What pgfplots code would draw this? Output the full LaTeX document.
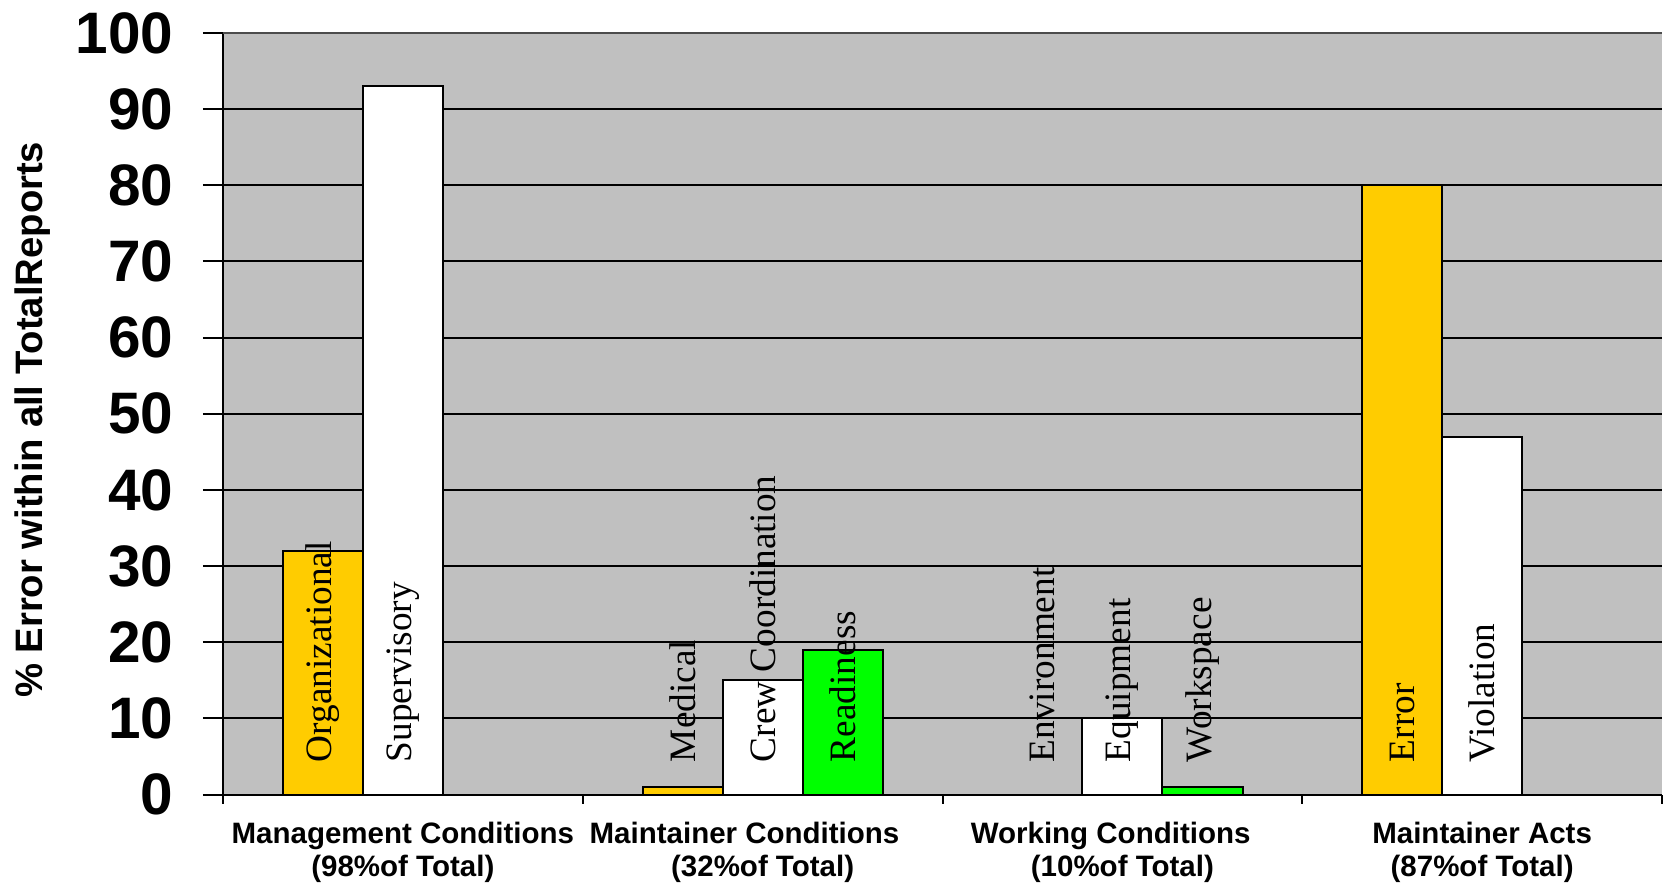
\documentclass[border=0pt]{standalone}
\usepackage{pgfplots}
\pgfplotsset{compat=1.18}
\usepackage{fontspec}
\setmainfont{Liberation Sans}
\newfontfamily\barserif{Liberation Serif}
\definecolor{gold}{HTML}{FFCC00}
\definecolor{bgray}{HTML}{C0C0C0}
\definecolor{lgreen}{HTML}{00FF00}
\tikzset{barlabel/.style={rotate=90, anchor=west, inner sep=0pt, font=\barserif\fontsize{14.9}{14.9}\selectfont}}
\begin{document}
\begin{tikzpicture}
\begin{axis}[
  at={(89.2pt,35.4pt)}, anchor=south west,
  scale only axis, width=575.6pt, height=304.6pt,
  xmin=-0.5, xmax=3.5, ymin=0, ymax=100,
  clip=false,
  axis background/.style={fill=bgray},
  axis x line*=bottom, axis y line*=left,
  axis line style={line width=0.8pt, -},
  ytick={0,10,...,90}, extra y ticks={100},
  extra y tick style={grid style={gray!60!black, line width=0.8pt}},
  ymajorgrids, grid style={black, line width=0.8pt},
  tick align=outside, major tick length=8pt,
  tick style={black, line width=0.8pt},
  xtick style={/pgfplots/major tick length=3.7pt},
  xtick={-0.5,0.5,1.5,2.5,3.5},
  x tick label as interval,
  xticklabels={{Management Conditions\\(98\%of Total)},{Maintainer Conditions\kern14.5pt\\(32\%of Total)},{Working Conditions\kern9.4pt\\(10\%of Total)},{Maintainer Acts\\(87\%of Total)}},
  xticklabel style={align=center, yshift=0.4pt, font=\bfseries\fontsize{11.8}{13.2}\selectfont},
  /pgf/number format/assume math mode=true,
  yticklabel style={xshift=-8.4pt, font=\bfseries\fontsize{23.4}{23.4}\selectfont},
  ylabel={\% Error within all TotalReports},
  every axis y label/.style={at={(axis description cs:-0.132,0.492)}, rotate=90, anchor=center, font=\bfseries\fontsize{15.3}{15.3}\selectfont},
]
\addplot[ybar, bar width=0.2226, bar shift=0pt, fill=gold, draw=black, line width=0.8pt]
  coordinates {(-0.2226,32) (0.7774,1) (2.7774,80)};
\addplot[ybar, bar width=0.2226, bar shift=0pt, fill=white, draw=black, line width=0.8pt]
  coordinates {(0,93) (1,15) (2,10) (3,47)};
\addplot[ybar, bar width=0.2226, bar shift=0pt, fill=lgreen, draw=black, line width=0.8pt]
  coordinates {(1.2226,19) (2.2226,1)};
\node[barlabel] at (axis cs:-0.2226,4.2) {Organizational};
\node[barlabel] at (axis cs:0,4.2) {Supervisory};
\node[barlabel] at (axis cs:0.7774,4.2) {Medical};
\node[barlabel] at (axis cs:1,4.2) {Crew Coordination};
\node[barlabel] at (axis cs:1.2226,4.2) {Readiness};
\node[barlabel] at (axis cs:1.7774,4.2) {Environment};
\node[barlabel] at (axis cs:2,4.2) {Equipment};
\node[barlabel] at (axis cs:2.2226,4.2) {Workspace};
\node[barlabel] at (axis cs:2.7774,4.2) {Error};
\node[barlabel] at (axis cs:3,4.2) {Violation};
\end{axis}
\pgfresetboundingbox
\path[use as bounding box] (0,0) rectangle (668.8pt,353.2pt);
\end{tikzpicture}
\end{document}
